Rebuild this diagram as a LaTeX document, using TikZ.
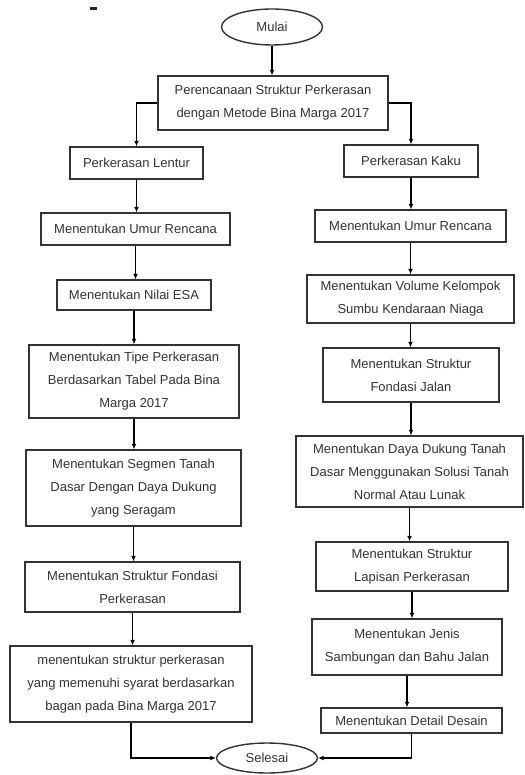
\documentclass[tikz,border=0pt]{standalone}
\usepackage{fontspec}
\setmainfont{Liberation Sans}
\usetikzlibrary{arrows.meta,shapes.geometric,calc}
\begin{document}
\begin{tikzpicture}[x=1pt,y=-1pt,
  box/.style={draw=black!80, line width=1.4pt, fill=white, align=center, inner sep=0pt,
    text=black!80, font=\fontsize{13}{23}\selectfont},
  term/.style={ellipse, draw=black!80, line width=1.4pt, fill=white, inner sep=0pt,
    text=black!80, font=\fontsize{13}{16}\selectfont},
  arr/.style={draw=black, line width=1.2pt, -{Latex[length=5.5pt,width=5pt]}},
  ]
\useasboundingbox (0,0) rectangle (524,775);
\fill[black!85] (90,7.5) rectangle (97,10.5);

\node[term, minimum width=101pt, minimum height=36pt] (mulai) at (272,27) {Mulai};
\node[box, minimum width=230pt, minimum height=54pt] (p) at (273,103)
  {Perencanaan Struktur Perkerasan\\dengan Metode Bina Marga 2017};

\node[box, minimum width=133pt, minimum height=32pt] (lentur) at (136.5,163) {Perkerasan Lentur};
\node[box, minimum width=134pt, minimum height=32pt] (kaku) at (411,161) {Perkerasan Kaku};

% left column
\node[box, minimum width=189pt, minimum height=32pt] (L1) at (135.5,229) {Menentukan Umur Rencana};
\node[box, minimum width=154pt, minimum height=30pt] (L2) at (134,295) {Menentukan Nilai ESA};
\node[box, minimum width=210pt, minimum height=73pt] (L3) at (134,381.5)
  {Menentukan Tipe Perkerasan\\Berdasarkan Tabel Pada Bina\\Marga 2017};
\node[box, minimum width=215pt, minimum height=76pt] (L4) at (133.5,488)
  {Menentukan Segmen Tanah\\Dasar Dengan Daya Dukung\\yang Seragam};
\node[box, minimum width=215pt, minimum height=50pt] (L5) at (132.5,587)
  {Menentukan Struktur Fondasi\\Perkerasan};
\node[box, minimum width=242pt, minimum height=76pt] (L6) at (131,684)
  {menentukan struktur perkerasan\\yang memenuhi syarat berdasarkan\\bagan pada Bina Marga 2017};

% right column
\node[box, minimum width=191pt, minimum height=32pt] (R1) at (410.5,226) {Menentukan Umur Rencana};
\node[box, minimum width=207pt, minimum height=48pt] (R2) at (410.5,299)
  {Menentukan Volume Kelompok\\Sumbu Kendaraan Niaga};
\node[box, minimum width=176pt, minimum height=54pt] (R3) at (411,375)
  {Menentukan Struktur\\Fondasi Jalan};
\node[box, minimum width=227pt, minimum height=71pt] (R4) at (409.5,471.5)
  {Menentukan Daya Dukung Tanah\\Dasar Menggunakan Solusi Tanah\\Normal Atau Lunak};
\node[box, minimum width=192pt, minimum height=49pt] (R5) at (412,566.5)
  {Menentukan Struktur\\Lapisan Perkerasan};
\node[box, minimum width=190pt, minimum height=56pt] (R6) at (407,647)
  {Menentukan Jenis\\Sambungan dan Bahu Jalan};
\node[box, minimum width=181pt, minimum height=25pt] (R7) at (411.5,720.5) {Menentukan Detail Desain};

\node[term, minimum width=101pt, minimum height=30pt] (sel) at (267,758) {Selesai};

% connectors
\draw[arr] (mulai.south) -- (mulai.south |- p.north);
\draw[arr] (p.west) -| (lentur.north);
\draw[arr] (p.east) -| (kaku.north);

\draw[arr] (lentur.south) -- (lentur.south |- L1.north);
\draw[arr] (L1.south) -- (L1.south |- L2.north);
\draw[arr] (L2.south) -- (L2.south |- L3.north);
\draw[arr] (L3.south) -- (L3.south |- L4.north);
\draw[arr] (L4.south) -- (L4.south |- L5.north);
\draw[arr] (L5.south) -- (L5.south |- L6.north);

\draw[arr] (kaku.south) -- (kaku.south |- R1.north);
\draw[arr] (R1.south) -- (R1.south |- R2.north);
\draw[arr] (R2.south) -- (R2.south |- R3.north);
\draw[arr] (R3.south) -- (R3.south |- R4.north);
\draw[arr] (R4.south) -- (R4.south |- R5.north);
\draw[arr] (R5.south) -- (R5.south |- R6.north);
\draw[arr] (R6.south) -- (R6.south |- R7.north);

\draw[arr] (L6.south) |- (sel.west);
\draw[arr] (R7.south) |- (sel.east);
\end{tikzpicture}
\end{document}
